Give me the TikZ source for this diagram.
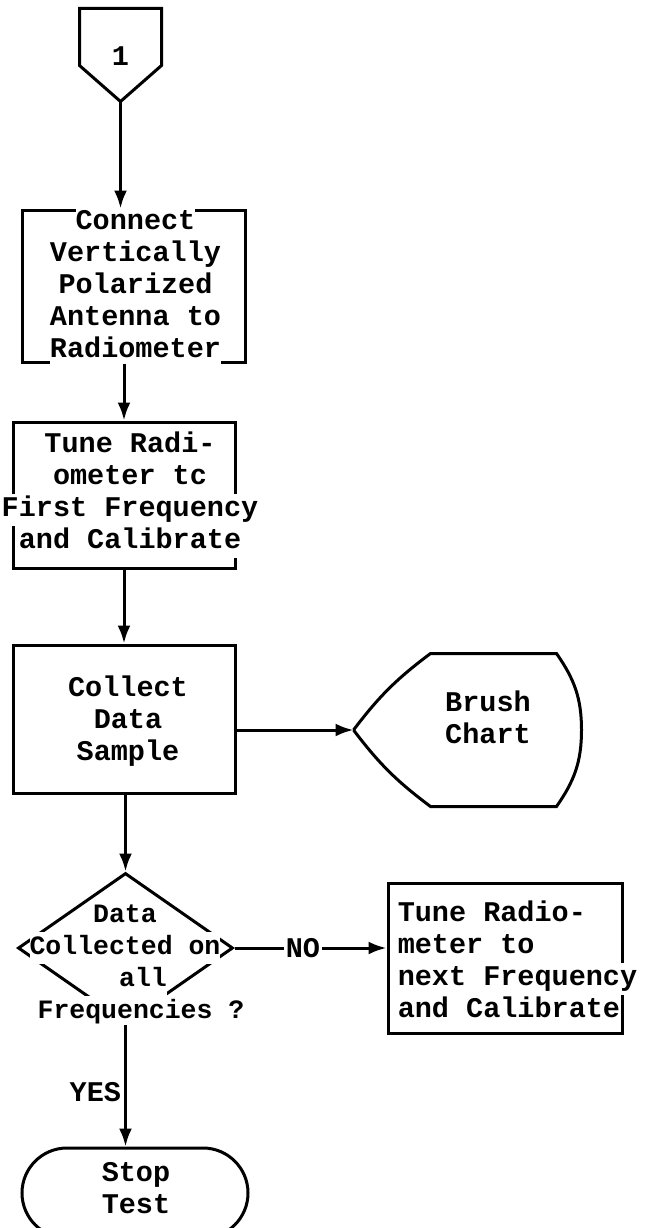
\documentclass[tikz,border=0pt]{standalone}
\usepackage{fontspec}
\setmonofont{Liberation Mono}
\usepackage{tikz}
\usetikzlibrary{arrows.meta,shapes.geometric,shapes.misc,calc}

\setlength{\fboxsep}{0pt}
% one printed line, blanking the outline behind it
\newcommand{\wl}[1]{\colorbox{white}{\strut #1}}
% text block: x shift, y shift, column, lines
\newcommand{\blk}[4]{\makebox[0pt][l]{\kern#1\makebox[0pt]{\smash{\raisebox{#2}{\begin{tabular}{@{}#3@{}}#4\end{tabular}}}}}}

\begin{document}
\begin{tikzpicture}[x=1pt,y=1pt,>={Latex[length=18pt,width=13pt]},
    line width=3pt,
    every node/.style={font=\ttfamily\bfseries\fontsize{28.5}{32}\selectfont},
    plain node/.style={inner sep=0pt},
    proc node/.style={rectangle,draw,inner sep=0pt},
    decision node/.style={diamond,draw,inner sep=0pt,minimum width=215pt,minimum height=150pt,
      font=\ttfamily\bfseries\fontsize{26.5}{32}\selectfont},
    stop node/.style={rounded rectangle,draw,inner sep=0pt,minimum width=226pt,minimum height=90pt}]
    \useasboundingbox (0,0) rectangle (647,-1228);
    \clip (0,0) rectangle (647,-1228);
    \node[plain node,minimum width=79pt,minimum height=90pt] (conn_in) at (120.5,-55) {\blk{0pt}{-10pt}{c}{1}};
    \node[proc node,minimum width=223pt,minimum height=152pt] (connect) [below of=conn_in,node distance=231pt,xshift=13pt]
      {\blk{2pt}{-7pt}{c}{\wl{Connect}\\ \wl{Vertically}\\ \wl{Polarized}\\ \wl{Antenna to}\\ \wl{Radiometer}}};
    \node[proc node,minimum width=222pt,minimum height=146pt] (tune_first) [below of=connect,node distance=209pt,xshift=-9.5pt]
      {\blk{6pt}{-5pt}{c}{\wl{Tune Radi-}\\ \wl{ometer tc}\\ \wl{First Frequency}\\ \wl{and Calibrate}}};
    \node[proc node,minimum width=222pt,minimum height=148pt] (collect) [below of=tune_first,node distance=224pt]
      {\blk{4pt}{-9pt}{c}{Collect\\ Data\\ Sample}};
    \node[plain node,minimum width=225pt,minimum height=150pt] (brush) [right of=collect,node distance=343.5pt,yshift=-11pt]
      {\blk{20.5pt}{3pt}{c}{Brush\\ Chart}};
    \node[decision node] (decide) [below of=collect,node distance=229pt,xshift=1.5pt]
      {\blk{-0.5pt}{-22.5pt}{c}{\wl{Data}\\ \wl{Collected on}\\ \kern36pt\wl{all}\\ \kern32pt\wl{Frequencies ?}}};
    \node[proc node,minimum width=234pt,minimum height=150pt] (tune_next) [right of=decide,node distance=379.5pt,yshift=-10pt]
      {\blk{12.5pt}{-11pt}{l}{\wl{Tune Radio-}\\ \wl{meter to}\\ \wl{next Frequency}\\ \wl{and Calibrate}}};
    \node[stop node] (stop) [below of=decide,node distance=245pt,xshift=9.5pt]
      {\blk{1pt}{-4pt}{c}{Stop\\ Test}};
    % connector and display outlines
    \draw (conn_in.north west) -- (conn_in.north east) -- ($(conn_in.north east)+(0,-57)$)
      -- (conn_in.south) -- ($(conn_in.north west)+(0,-57)$) -- cycle;
    \draw (brush.west) to[bend left=8] ($(brush.north west)+(77,0)$) -- ($(brush.north east)+(-25,0)$)
      to[out=-55,in=90] (brush.east) to[out=-90,in=55] ($(brush.south east)+(-25,0)$)
      -- ($(brush.south west)+(77,0)$) to[bend left=8] (brush.west);
    \path[->]
    (conn_in.south) edge (conn_in.south |- connect.north)
    (tune_first.north |- connect.south) edge (tune_first.north)
    (tune_first.south) edge (collect.north)
    (collect.east |- brush.west) edge (brush.west)
    (collect.south -| decide.north) edge (decide.north)
    (decide.east) edge node[fill=white,inner sep=2pt,pos=.45] {NO} (decide.east -| tune_next.west)
    (decide.south) edge node[left,inner sep=3pt,pos=.55] {YES} (decide.south |- stop.north)
    ;
\end{tikzpicture}
\end{document}
